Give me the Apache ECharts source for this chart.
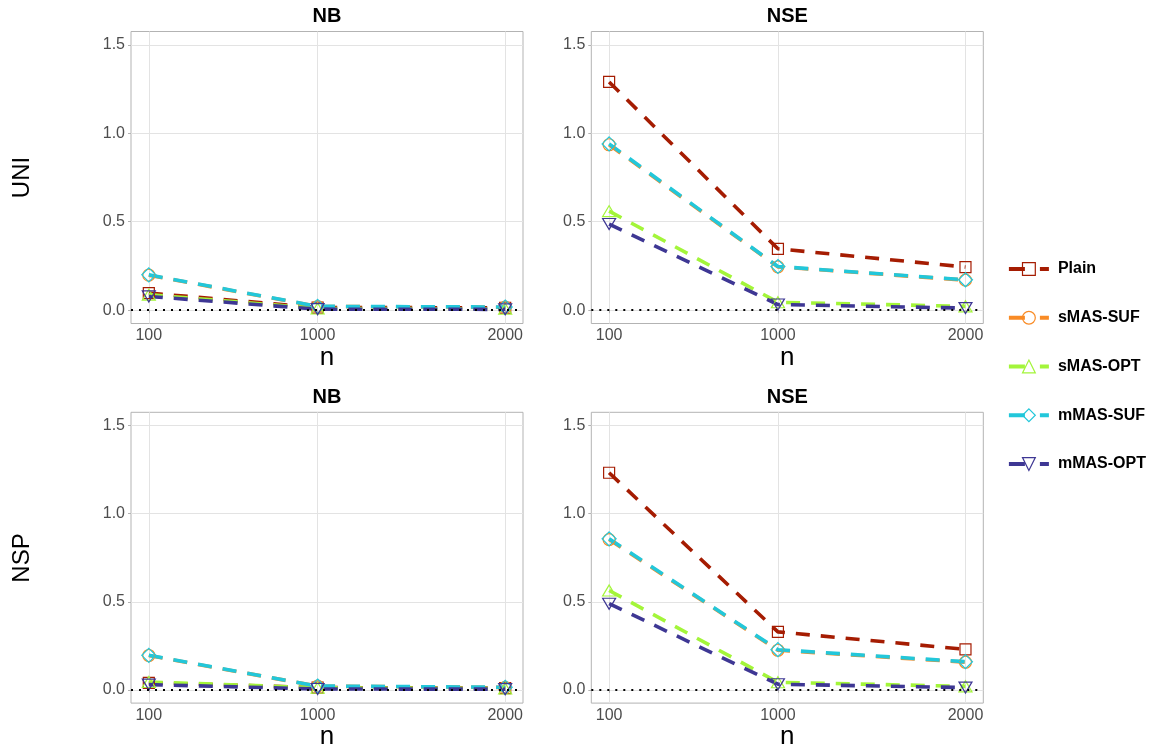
<!DOCTYPE html>
<html><head><meta charset="utf-8">
<script src="https://cdn.jsdelivr.net/npm/echarts@6/dist/echarts.min.js"></script>
<style>html,body{margin:0;padding:0;background:#fff}#c{width:1167px;height:751px}</style>
</head><body><div id="c"></div>
<script>
// ---- data ----
const nValues = [100, 1000, 2000];
const xTicks = [100, 1000, 2000];
const yTicks = [0, 0.5, 1.0, 1.5];
const methods = ['Plain', 'sMAS-SUF', 'sMAS-OPT', 'mMAS-SUF', 'mMAS-OPT'];
const colTitles = ['NB', 'NSE'];
const rowTitles = ['UNI', 'NSP'];

// UNI row, NB column
const uniNB_Plain   = [0.097, 0.015, 0.014];
const uniNB_sMASSUF = [0.198, 0.021, 0.017];
const uniNB_sMASOPT = [0.088, 0.010, 0.008];
const uniNB_mMASSUF = [0.200, 0.022, 0.018];
const uniNB_mMASOPT = [0.078, 0.006, 0.005];
// UNI row, NSE column
const uniNSE_Plain   = [1.290, 0.347, 0.244];
const uniNSE_sMASSUF = [0.935, 0.245, 0.170];
const uniNSE_sMASOPT = [0.560, 0.045, 0.022];
const uniNSE_mMASSUF = [0.940, 0.247, 0.172];
const uniNSE_mMASOPT = [0.487, 0.032, 0.012];
// NSP row, NB column
const nspNB_Plain   = [0.040, 0.013, 0.010];
const nspNB_sMASSUF = [0.195, 0.021, 0.014];
const nspNB_sMASOPT = [0.045, 0.012, 0.008];
const nspNB_mMASSUF = [0.196, 0.022, 0.015];
const nspNB_mMASOPT = [0.030, 0.005, 0.004];
// NSP row, NSE column
const nspNSE_Plain   = [1.232, 0.329, 0.230];
const nspNSE_sMASSUF = [0.853, 0.225, 0.157];
const nspNSE_sMASOPT = [0.564, 0.043, 0.020];
const nspNSE_mMASSUF = [0.857, 0.228, 0.160];
const nspNSE_mMASOPT = [0.489, 0.032, 0.013];

const panels = [
  [uniNB_Plain, uniNB_sMASSUF, uniNB_sMASOPT, uniNB_mMASSUF, uniNB_mMASOPT],
  [uniNSE_Plain, uniNSE_sMASSUF, uniNSE_sMASOPT, uniNSE_mMASSUF, uniNSE_mMASOPT],
  [nspNB_Plain, nspNB_sMASSUF, nspNB_sMASOPT, nspNB_mMASSUF, nspNB_mMASOPT],
  [nspNSE_Plain, nspNSE_sMASSUF, nspNSE_sMASOPT, nspNSE_mMASSUF, nspNSE_mMASOPT]
];

// ---- styles ----
const colors = ['#A51C02', '#F98B25', '#A3F53A', '#22C7DA', '#3E3794'];
const symbols = ['rect', 'circle', 'triangle', 'diamond', 'triangle'];
const symSizes = [11, 12, [13, 11], 14, [13, 11]];
const symRot = [0, 0, 0, 0, 180];
const FONT = 'Liberation Sans';

const gridPos = [
  {left: 131, top: 31.5, width: 392, height: 292},
  {left: 591.3, top: 31.5, width: 392, height: 292},
  {left: 131, top: 412.3, width: 392, height: 291.4},
  {left: 591.3, top: 412.3, width: 392, height: 291.4}
];

const grid = gridPos.map(g => Object.assign({show: true, borderColor: '#b3b3b3', borderWidth: 1, backgroundColor: 'transparent'}, g));

const xAxis = gridPos.map((g, i) => ({
  type: 'value', gridIndex: i, min: 5, max: 2095,
  axisLine: {show: false},
  axisTick: {show: true, customValues: xTicks, length: 3, lineStyle: {color: '#b3b3b3'}},
  axisLabel: {customValues: xTicks, color: '#4d4d4d', fontSize: 16, fontFamily: FONT, margin: 4,
    formatter: v => String(v)},
  splitLine: {show: true, lineStyle: {color: '#e3e3e3', width: 1}},
  name: 'n', nameLocation: 'middle', nameGap: 15,
  nameTextStyle: {fontSize: 26, color: '#000', fontFamily: FONT}
}));

const yAxis = gridPos.map((g, i) => ({
  type: 'value', gridIndex: i, min: -0.075, max: 1.575,
  axisLine: {show: false},
  axisTick: {show: true, customValues: yTicks, length: 3, lineStyle: {color: '#b3b3b3'}},
  axisLabel: {customValues: yTicks, color: '#4d4d4d', fontSize: 16, fontFamily: FONT, margin: 6,
    formatter: v => v.toFixed(1)},
  splitLine: {show: true, lineStyle: {color: '#e3e3e3', width: 1}}
}));

const series = [];
panels.forEach((pd, p) => {
  methods.forEach((m, k) => {
    const s = {
      type: 'line', name: m, xAxisIndex: p, yAxisIndex: p,
      data: nValues.map((n, j) => [n, pd[k][j]]),
      symbol: symbols[k], symbolSize: symSizes[k], symbolRotate: symRot[k],
      showSymbol: true,
      itemStyle: {color: 'rgba(255,255,255,0)', borderColor: colors[k], borderWidth: 1.2},
      lineStyle: {color: colors[k], width: 3.6, type: [14, 11]},
      emphasis: {disabled: true},
      silent: true
    };
    if (k === methods.length - 1) {
      s.markLine = {
        silent: true, symbol: 'none', label: {show: false},
        lineStyle: {color: '#000', width: 2, type: [2, 6]},
        data: [{yAxis: 0}]
      };
    }
    series.push(s);
  });
});

const graphic = [];
colTitles.forEach((t, c) => {
  [0, 2].forEach((r, ri) => {
    const g = gridPos[r + c];
    graphic.push({type: 'text', x: g.left + g.width / 2, y: ri === 0 ? 16.5 : 397,
      style: {text: t, align: 'center', verticalAlign: 'middle', font: 'bold 20px "' + FONT + '"', fill: '#000'}});
  });
});
rowTitles.forEach((t, r) => {
  const g = gridPos[r * 2];
  graphic.push({type: 'text', x: 22, y: g.top + g.height / 2, rotation: Math.PI / 2,
    style: {text: t, align: 'center', verticalAlign: 'middle', font: '24px "' + FONT + '"', fill: '#000'}});
});

const chart = echarts.init(document.getElementById('c'));
chart.setOption({
  animation: false,
  backgroundColor: '#fff',
  grid, xAxis, yAxis, series, graphic,
  legend: {
    data: methods, orient: 'vertical', left: 1007, top: 261, padding: 0,
    itemWidth: 40, itemHeight: 16, itemGap: 32.75,
    lineStyle: {width: 3.8, type: [16, 15]},
    itemStyle: {borderWidth: 1.2},
    textStyle: {fontSize: 16, fontWeight: 'bold', color: '#000', fontFamily: FONT, padding: [0, 0, 0, 4]},
    selectedMode: false
  }
});
</script></body></html>
